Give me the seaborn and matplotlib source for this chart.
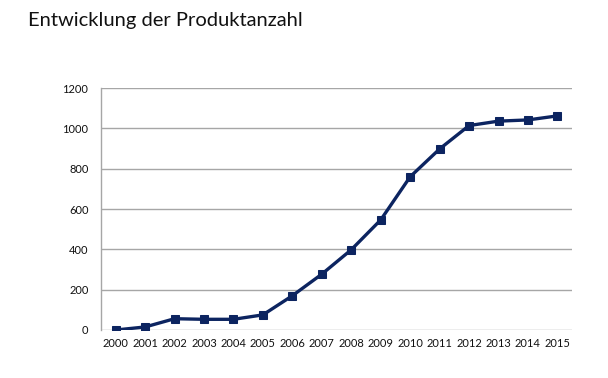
import matplotlib
matplotlib.use("Agg")
import matplotlib.pyplot as plt
import seaborn as sns
import pandas as pd

years = [2000, 2001, 2002, 2003, 2004, 2005, 2006, 2007, 2008, 2009, 2010, 2011, 2012, 2013, 2014, 2015]
products = [0, 15, 56, 53, 53, 75, 170, 277, 398, 546, 760, 898, 1014, 1036, 1042, 1062]
yticks = [0, 200, 400, 600, 800, 1000, 1200]

df = pd.DataFrame({"Jahr": years, "Produkte": products})

sns.set_style("white")
plt.rcParams['font.family'] = ['Lato', 'DejaVu Sans']

fig = plt.figure(figsize=(6.08, 3.78), dpi=100)
ax = fig.add_axes([0.166, 0.127, 0.775, 0.640])

color = "#0c2460"
sns.lineplot(data=df, x="Jahr", y="Produkte", ax=ax, color=color, linewidth=2.4,
             marker="s", markersize=6.2, markeredgecolor=color, markerfacecolor=color)

ax.set_xlim(1999.5, 2015.5)
ax.set_ylim(0, 1200)
ax.set_yticks(yticks)
ax.set_xticks(years)
ax.set_xticklabels([str(y) for y in years], fontsize=8, color="#111111")
ax.set_yticklabels([str(v) for v in yticks], fontsize=8, color="#111111")
ax.grid(axis="y", color="#a6a6a6", linewidth=1)
ax.set_axisbelow(True)
ax.tick_params(axis="both", length=0, pad=6)
ax.tick_params(axis="y", pad=9)
for s in ["top", "right", "bottom"]:
    ax.spines[s].set_visible(False)
ax.spines["left"].set_color("#a6a6a6")
ax.spines["left"].set_linewidth(1)
ax.set_xlabel("")
ax.set_ylabel("")

fig.text(0.046, 0.945, "Entwicklung der Produktanzahl", fontsize=14.5, ha="left", va="center",
         color="#111111", family=['Lato', 'DejaVu Sans'])

fig.savefig("out.png", dpi=100)
